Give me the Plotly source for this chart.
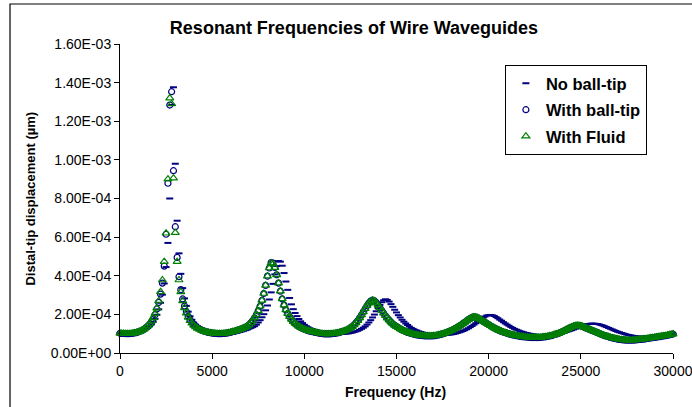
import plotly.graph_objects as go

# Frequency grid (Hz), sampled every 100 Hz from 0 to 30000
freq_hz = list(range(0, 30001, 100))

# Distal-tip displacement, in units of 1e-4 um (rows of 10 samples = 1000 Hz)
no_ball_tip = [
    1.02, 1.01, 1.01, 1.00, 1.00, 1.00, 1.00, 1.01, 1.02, 1.04,
    1.06, 1.09, 1.13, 1.18, 1.23, 1.30, 1.38, 1.48, 1.61, 1.77,
    1.98, 2.26, 2.60, 3.02, 3.60, 4.45, 5.70, 8.00, 12.84, 13.76,
    9.80, 6.85, 5.16, 4.10, 3.36, 2.83, 2.44, 2.14, 1.90, 1.72,
    1.58, 1.47, 1.38, 1.31, 1.25, 1.20, 1.16, 1.12, 1.09, 1.07,
    1.05, 1.03, 1.02, 1.01, 1.00, 1.00, 1.00, 1.00, 1.00, 1.01,
    1.01, 1.02, 1.03, 1.04, 1.07, 1.09, 1.12, 1.15, 1.18, 1.21,
    1.26, 1.30, 1.34, 1.39, 1.47, 1.58, 1.70, 1.85, 2.01, 2.21,
    2.46, 2.77, 3.14, 3.58, 4.07, 4.50, 4.76, 4.73, 4.52, 4.14,
    3.70, 3.27, 2.85, 2.52, 2.27, 2.07, 1.91, 1.76, 1.64, 1.55,
    1.46, 1.39, 1.33, 1.28, 1.24, 1.20, 1.16, 1.13, 1.11, 1.09,
    1.07, 1.05, 1.03, 1.01, 1.00, 0.99, 0.99, 0.99, 0.99, 0.99,
    0.99, 1.00, 1.00, 1.01, 1.02, 1.04, 1.06, 1.09, 1.12, 1.15,
    1.20, 1.25, 1.31, 1.38, 1.47, 1.58, 1.70, 1.84, 1.99, 2.16,
    2.32, 2.49, 2.63, 2.73, 2.78, 2.75, 2.66, 2.53, 2.39, 2.24,
    2.10, 1.96, 1.84, 1.72, 1.62, 1.53, 1.45, 1.37, 1.30, 1.25,
    1.20, 1.16, 1.12, 1.09, 1.06, 1.03, 1.01, 0.99, 0.97, 0.95,
    0.94, 0.93, 0.92, 0.92, 0.92, 0.92, 0.93, 0.94, 0.95, 0.96,
    0.97, 0.99, 1.01, 1.04, 1.07, 1.10, 1.14, 1.18, 1.23, 1.28,
    1.34, 1.40, 1.47, 1.54, 1.61, 1.69, 1.76, 1.83, 1.89, 1.94,
    1.96, 1.97, 1.95, 1.92, 1.86, 1.80, 1.73, 1.67, 1.60, 1.53,
    1.47, 1.41, 1.35, 1.30, 1.25, 1.21, 1.17, 1.13, 1.10, 1.07,
    1.04, 1.02, 1.00, 0.98, 0.96, 0.95, 0.94, 0.93, 0.92, 0.92,
    0.92, 0.92, 0.92, 0.93, 0.94, 0.95, 0.96, 0.98, 1.00, 1.02,
    1.04, 1.06, 1.09, 1.12, 1.15, 1.18, 1.22, 1.26, 1.30, 1.34,
    1.38, 1.42, 1.45, 1.48, 1.50, 1.51, 1.52, 1.52, 1.51, 1.50,
    1.48, 1.45, 1.42, 1.38, 1.34, 1.30, 1.26, 1.22, 1.18, 1.14,
    1.10, 1.07, 1.04, 1.01, 0.98, 0.95, 0.93, 0.91, 0.89, 0.87,
    0.86, 0.85, 0.84, 0.84, 0.84, 0.84, 0.85, 0.85, 0.86, 0.87,
    0.88, 0.89, 0.90, 0.91, 0.92, 0.93, 0.95, 0.96, 0.97, 0.98,
    1.00,
]

with_ball_tip = [
    1.02, 1.01, 1.01, 1.00, 1.00, 1.00, 1.01, 1.02, 1.04, 1.06,
    1.09, 1.13, 1.17, 1.23, 1.30, 1.38, 1.48, 1.61, 1.77, 1.98,
    2.28, 2.62, 3.05, 3.62, 4.50, 6.15, 8.79, 12.84, 13.53, 9.44,
    6.54, 4.95, 3.95, 3.28, 2.80, 2.43, 2.13, 1.90, 1.72, 1.58,
    1.47, 1.38, 1.31, 1.25, 1.20, 1.16, 1.12, 1.09, 1.07, 1.05,
    1.03, 1.02, 1.01, 1.00, 1.00, 1.00, 1.01, 1.02, 1.03, 1.05,
    1.07, 1.10, 1.12, 1.15, 1.18, 1.21, 1.25, 1.29, 1.33, 1.38,
    1.46, 1.56, 1.68, 1.82, 1.98, 2.18, 2.42, 2.72, 3.08, 3.50,
    3.98, 4.40, 4.68, 4.66, 4.43, 4.05, 3.62, 3.20, 2.80, 2.48,
    2.23, 2.04, 1.88, 1.74, 1.62, 1.53, 1.45, 1.38, 1.32, 1.27,
    1.23, 1.19, 1.16, 1.13, 1.11, 1.09, 1.07, 1.05, 1.03, 1.01,
    1.00, 0.99, 0.99, 0.99, 0.99, 1.00, 1.01, 1.02, 1.04, 1.06,
    1.09, 1.12, 1.15, 1.19, 1.24, 1.30, 1.37, 1.46, 1.56, 1.68,
    1.82, 1.97, 2.13, 2.29, 2.45, 2.59, 2.69, 2.74, 2.70, 2.61,
    2.48, 2.34, 2.20, 2.06, 1.93, 1.81, 1.70, 1.60, 1.51, 1.43,
    1.37, 1.31, 1.25, 1.20, 1.15, 1.11, 1.07, 1.04, 1.01, 0.98,
    0.96, 0.94, 0.92, 0.91, 0.90, 0.89, 0.88, 0.88, 0.88, 0.88,
    0.89, 0.90, 0.92, 0.94, 0.96, 0.99, 1.02, 1.05, 1.09, 1.13,
    1.17, 1.22, 1.27, 1.33, 1.39, 1.45, 1.52, 1.59, 1.66, 1.73,
    1.79, 1.84, 1.87, 1.86, 1.82, 1.77, 1.71, 1.65, 1.59, 1.53,
    1.47, 1.41, 1.35, 1.30, 1.25, 1.20, 1.16, 1.12, 1.08, 1.05,
    1.02, 0.99, 0.96, 0.94, 0.92, 0.90, 0.88, 0.86, 0.85, 0.84,
    0.83, 0.82, 0.81, 0.80, 0.80, 0.80, 0.80, 0.80, 0.81, 0.82,
    0.83, 0.84, 0.86, 0.88, 0.90, 0.93, 0.96, 0.99, 1.02, 1.06,
    1.10, 1.15, 1.20, 1.25, 1.30, 1.34, 1.38, 1.41, 1.43, 1.42,
    1.40, 1.37, 1.33, 1.29, 1.25, 1.21, 1.17, 1.13, 1.09, 1.05,
    1.01, 0.97, 0.93, 0.90, 0.87, 0.84, 0.81, 0.78, 0.76, 0.74,
    0.72, 0.70, 0.69, 0.68, 0.67, 0.66, 0.66, 0.66, 0.66, 0.67,
    0.68, 0.69, 0.70, 0.71, 0.72, 0.73, 0.75, 0.76, 0.78, 0.79,
    0.81, 0.82, 0.84, 0.85, 0.87, 0.88, 0.90, 0.92, 0.94, 0.96,
    0.98,
]

with_fluid = [
    1.02, 1.01, 1.01, 1.00, 1.00, 1.00, 1.01, 1.02, 1.04, 1.06,
    1.09, 1.13, 1.18, 1.24, 1.31, 1.40, 1.51, 1.65, 1.82, 2.04,
    2.32, 2.70, 3.17, 3.78, 4.73, 6.20, 9.00, 13.20, 12.90, 9.05,
    6.23, 4.73, 3.78, 3.17, 2.70, 2.34, 2.06, 1.84, 1.67, 1.54,
    1.43, 1.35, 1.28, 1.23, 1.18, 1.14, 1.11, 1.08, 1.06, 1.04,
    1.03, 1.02, 1.01, 1.00, 1.00, 1.00, 1.01, 1.02, 1.03, 1.05,
    1.07, 1.10, 1.12, 1.15, 1.18, 1.21, 1.25, 1.29, 1.33, 1.38,
    1.46, 1.56, 1.68, 1.82, 1.98, 2.18, 2.42, 2.72, 3.08, 3.50,
    3.98, 4.40, 4.65, 4.62, 4.42, 4.05, 3.62, 3.20, 2.80, 2.48,
    2.23, 2.04, 1.88, 1.74, 1.62, 1.53, 1.45, 1.38, 1.32, 1.27,
    1.23, 1.19, 1.16, 1.13, 1.11, 1.09, 1.07, 1.05, 1.03, 1.01,
    1.00, 0.99, 0.99, 0.99, 0.99, 1.00, 1.01, 1.02, 1.04, 1.06,
    1.09, 1.12, 1.15, 1.19, 1.24, 1.30, 1.37, 1.46, 1.56, 1.68,
    1.82, 1.97, 2.13, 2.29, 2.45, 2.58, 2.68, 2.72, 2.69, 2.60,
    2.48, 2.34, 2.20, 2.06, 1.93, 1.81, 1.70, 1.60, 1.51, 1.43,
    1.37, 1.31, 1.25, 1.20, 1.15, 1.11, 1.07, 1.04, 1.01, 0.98,
    0.96, 0.94, 0.92, 0.91, 0.90, 0.89, 0.88, 0.88, 0.88, 0.88,
    0.89, 0.90, 0.92, 0.94, 0.96, 0.99, 1.02, 1.05, 1.09, 1.13,
    1.17, 1.22, 1.27, 1.33, 1.39, 1.45, 1.52, 1.59, 1.66, 1.73,
    1.79, 1.84, 1.86, 1.85, 1.82, 1.77, 1.71, 1.65, 1.59, 1.53,
    1.47, 1.41, 1.35, 1.30, 1.25, 1.20, 1.16, 1.12, 1.08, 1.05,
    1.02, 0.99, 0.96, 0.94, 0.92, 0.90, 0.88, 0.86, 0.85, 0.84,
    0.83, 0.82, 0.81, 0.80, 0.80, 0.80, 0.80, 0.80, 0.81, 0.82,
    0.83, 0.84, 0.86, 0.88, 0.90, 0.93, 0.96, 0.99, 1.02, 1.06,
    1.10, 1.15, 1.20, 1.25, 1.30, 1.34, 1.38, 1.41, 1.42, 1.42,
    1.40, 1.37, 1.33, 1.29, 1.25, 1.21, 1.17, 1.13, 1.09, 1.05,
    1.01, 0.97, 0.93, 0.90, 0.87, 0.84, 0.81, 0.78, 0.76, 0.74,
    0.72, 0.70, 0.69, 0.68, 0.67, 0.66, 0.66, 0.66, 0.66, 0.67,
    0.68, 0.69, 0.70, 0.71, 0.72, 0.73, 0.75, 0.76, 0.78, 0.79,
    0.81, 0.82, 0.84, 0.85, 0.87, 0.88, 0.90, 0.92, 0.94, 0.96,
    0.98,
]

series_names = ["No ball-tip", "With ball-tip", "With Fluid"]

y_tick_vals = [0, 2, 4, 6, 8, 10, 12, 14, 16]
y_tick_text = ["0.00E+00", "2.00E-04", "4.00E-04", "6.00E-04", "8.00E-04",
               "1.00E-03", "1.20E-03", "1.40E-03", "1.60E-03"]
x_tick_vals = [0, 5000, 10000, 15000, 20000, 25000, 30000]
x_tick_text = ["0", "5000", "10000", "15000", "20000", "25000", "30000"]

FONT = "Liberation Sans, Arial, sans-serif"
NAVY = "#000080"
GREEN = "#008000"

fig = go.Figure()
fig.add_trace(go.Scatter(
    x=freq_hz, y=no_ball_tip, mode="markers", name=series_names[0],
    legendgroup="a", cliponaxis=False,
    marker=dict(symbol="line-ew", size=5, color=NAVY,
                line=dict(color=NAVY, width=2)),
))
fig.add_trace(go.Scatter(
    x=freq_hz, y=with_ball_tip, mode="markers", name=series_names[1],
    legendgroup="b", cliponaxis=False,
    marker=dict(symbol="circle-open", size=6, color=NAVY,
                line=dict(color=NAVY, width=1.2)),
))
fig.add_trace(go.Scatter(
    x=freq_hz, y=with_fluid, mode="markers", name=series_names[2],
    legendgroup="c", cliponaxis=False,
    marker=dict(symbol="triangle-up-open", size=7, color=GREEN,
                line=dict(color=GREEN, width=1.2)),
))

fig.update_layout(
    width=692, height=407,
    margin=dict(l=120, r=19, t=44, b=54, autoexpand=False),
    paper_bgcolor="white", plot_bgcolor="white",
    font=dict(family=FONT, color="black"),
    title=dict(text="Resonant Frequencies of Wire Waveguides",
               font=dict(family=FONT, size=18, color="black", weight="bold"),
               xref="container", yref="container",
               x=354 / 692, xanchor="center", y=1 - 28 / 407, yanchor="middle"),
    showlegend=True,
    legend=dict(x=0.696, y=0.932, xanchor="left", yanchor="top",
                bgcolor="white", bordercolor="black", borderwidth=1,
                font=dict(family=FONT, size=16.5, color="black", weight="bold"),
                traceorder="grouped", tracegroupgap=2),
    xaxis=dict(range=[0, 30000], tickvals=x_tick_vals, ticktext=x_tick_text,
               ticks="outside", ticklen=5, tickcolor="black",
               showline=True, linecolor="black", linewidth=1,
               showgrid=False, zeroline=False, automargin=False,
               ticklabeloverflow="allow",
               tickfont=dict(family=FONT, size=14, color="black")),
    yaxis=dict(range=[0, 16], tickvals=y_tick_vals, ticktext=y_tick_text,
               ticks="outside", ticklen=5, tickcolor="black",
               showline=True, linecolor="black", linewidth=1,
               showgrid=False, zeroline=False, automargin=False,
               tickfont=dict(family=FONT, size=14, color="black")),
    annotations=[
        dict(text="Frequency (Hz)", xref="paper", yref="paper",
             x=0.499, y=-0.126, xanchor="center", yanchor="middle",
             showarrow=False,
             font=dict(family=FONT, size=14, color="black", weight="bold")),
        dict(text="Distal-tip displacement (µm)", xref="paper", yref="paper",
             x=-0.1627, y=0.5, xanchor="center", yanchor="middle",
             textangle=-90, showarrow=False,
             font=dict(family=FONT, size=13, color="black", weight="bold")),
    ],
    shapes=[
        dict(type="rect", xref="paper", yref="paper",
             x0=-0.1989, x1=1.3, y0=-0.4, y1=1.1294,
             line=dict(color="black", width=1.2), fillcolor="rgba(0,0,0,0)",
             layer="below"),
    ],
)

# remove the browser's default 8 px body margin so the figure fills the window
fig.write_html("out.html",
               config={"displayModeBar": False},
               post_script="document.body.style.margin='0px';")
